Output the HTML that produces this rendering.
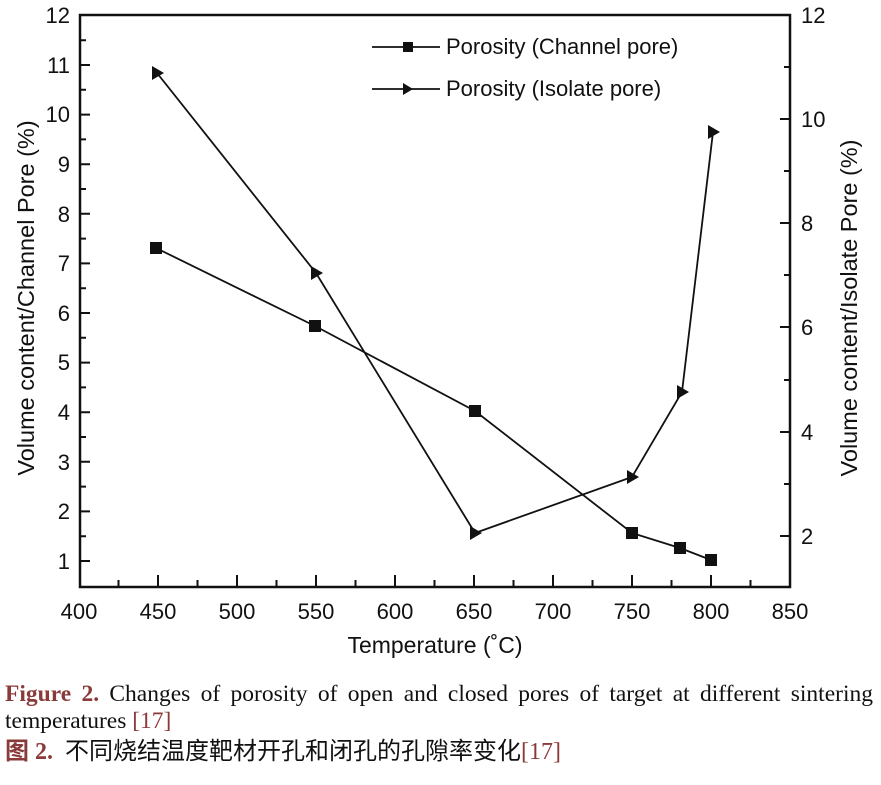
<!DOCTYPE html>
<html><head><meta charset="utf-8"><style>
body{margin:0;background:#fff;width:881px;height:785px;overflow:hidden;position:relative}
svg{display:block;position:absolute;left:0;top:0}
.t{font-family:"Liberation Sans",sans-serif;font-size:22px;fill:#111}
.r{color:#8b3a3a}
.cap{position:absolute;left:5px;width:868px;font-family:"Liberation Serif",serif;font-size:23.5px;line-height:27px;color:#111;white-space:nowrap}
.l1{top:681px;text-align:justify;text-align-last:justify}
.l2{top:708px}
.zh{position:absolute;left:5px;top:737px;font-family:"Liberation Serif","Noto Sans CJK SC",sans-serif;font-size:24px;line-height:30px;color:#111;white-space:nowrap}
</style></head><body>
<svg width="881" height="785" xmlns="http://www.w3.org/2000/svg">
<g stroke="#111" stroke-width="2.5" fill="none">
<rect x="80" y="15" width="710" height="572"/>
</g>
<g stroke="#111" stroke-width="2">
<path d="M80 561h10M80 511.4h10M80 461.8h10M80 412.2h10M80 362.6h10M80 313h10M80 263.4h10M80 213.8h10M80 164.2h10M80 114.6h10M80 65h10"/>
<path d="M80 536.2h6M80 486.6h6M80 437h6M80 387.4h6M80 337.8h6M80 288.2h6M80 238.6h6M80 189h6M80 139.4h6M80 89.8h6M80 40.2h6"/>
<path d="M790 536h-10M790 432h-10M790 327h-10M790 223h-10M790 119h-10"/>
<path d="M790 484h-6M790 380h-6M790 275h-6M790 171h-6M790 67h-6"/>
<path d="M158 587v-12M237 587v-12M316 587v-12M395 587v-12M474 587v-12M553 587v-12M632 587v-12M711 587v-12"/>
<path d="M118.5 587v-7M197.5 587v-7M276.5 587v-7M355.5 587v-7M434.5 587v-7M513.5 587v-7M592.5 587v-7M671.5 587v-7M750.5 587v-7"/>
</g>
<g stroke="#111" stroke-width="1.8" fill="none">
<polyline points="156,248 315,326 475,411 632,533 680,548 711,560"/>
<polyline points="157,73 316,273 475,533 632,477 682,392 713,132"/>
<path d="M372 47h68M372 89h68"/>
</g>
<g fill="#111">
<rect x="150" y="242" width="12" height="12"/><rect x="309" y="320" width="12" height="12"/><rect x="469" y="405" width="12" height="12"/><rect x="626" y="527" width="12" height="12"/><rect x="674" y="542" width="12" height="12"/><rect x="705" y="554" width="12" height="12"/>
<rect x="403" y="42" width="10" height="10"/>
<path d="M152 66l12 7l-12 7z M311 266l12 7l-12 7z M470 526l12 7l-12 7z M627 470l12 7l-12 7z M677 385l12 7l-12 7z M708 125l12 7l-12 7z M403 83l10 6l-10 6z"/>
</g>
<g class="t" text-anchor="end">
<text x="70" y="23">12</text><text x="70" y="73">11</text><text x="70" y="122">10</text><text x="70" y="172">9</text><text x="70" y="222">8</text><text x="70" y="271">7</text><text x="70" y="321">6</text><text x="70" y="370">5</text><text x="70" y="420">4</text><text x="70" y="470">3</text><text x="70" y="519">2</text><text x="70" y="569">1</text>
</g>
<g class="t">
<text x="801" y="23">12</text><text x="801" y="127">10</text><text x="801" y="231">8</text><text x="801" y="335">6</text><text x="801" y="440">4</text><text x="801" y="544">2</text>
<text x="446" y="54">Porosity (Channel pore)</text>
<text x="446" y="96">Porosity (Isolate pore)</text>
</g>
<g class="t" text-anchor="middle">
<text x="79" y="619">400</text><text x="158" y="619">450</text><text x="237" y="619">500</text><text x="316" y="619">550</text><text x="395" y="619">600</text><text x="474" y="619">650</text><text x="553" y="619">700</text><text x="632" y="619">750</text><text x="711" y="619">800</text><text x="790" y="619">850</text>
<text x="435" y="653" font-size="23">Temperature (˚C)</text>
<text transform="translate(34,298) rotate(-90)" font-size="23.5">Volume content/Channel Pore (%)</text>
<text transform="translate(857,308) rotate(-90)" font-size="23.5">Volume content/Isolate Pore (%)</text>
</g>
</svg>
<div class="cap l1"><b class="r">Figure 2.</b> Changes of porosity of open and closed pores of target at different sintering</div>
<div class="cap l2">temperatures <span class="r">[17]</span></div>
<div class="zh"><b class="r">图 2.</b>&nbsp; 不同烧结温度靶材开孔和闭孔的孔隙率变化<span class="r">[17]</span></div>
</body></html>
